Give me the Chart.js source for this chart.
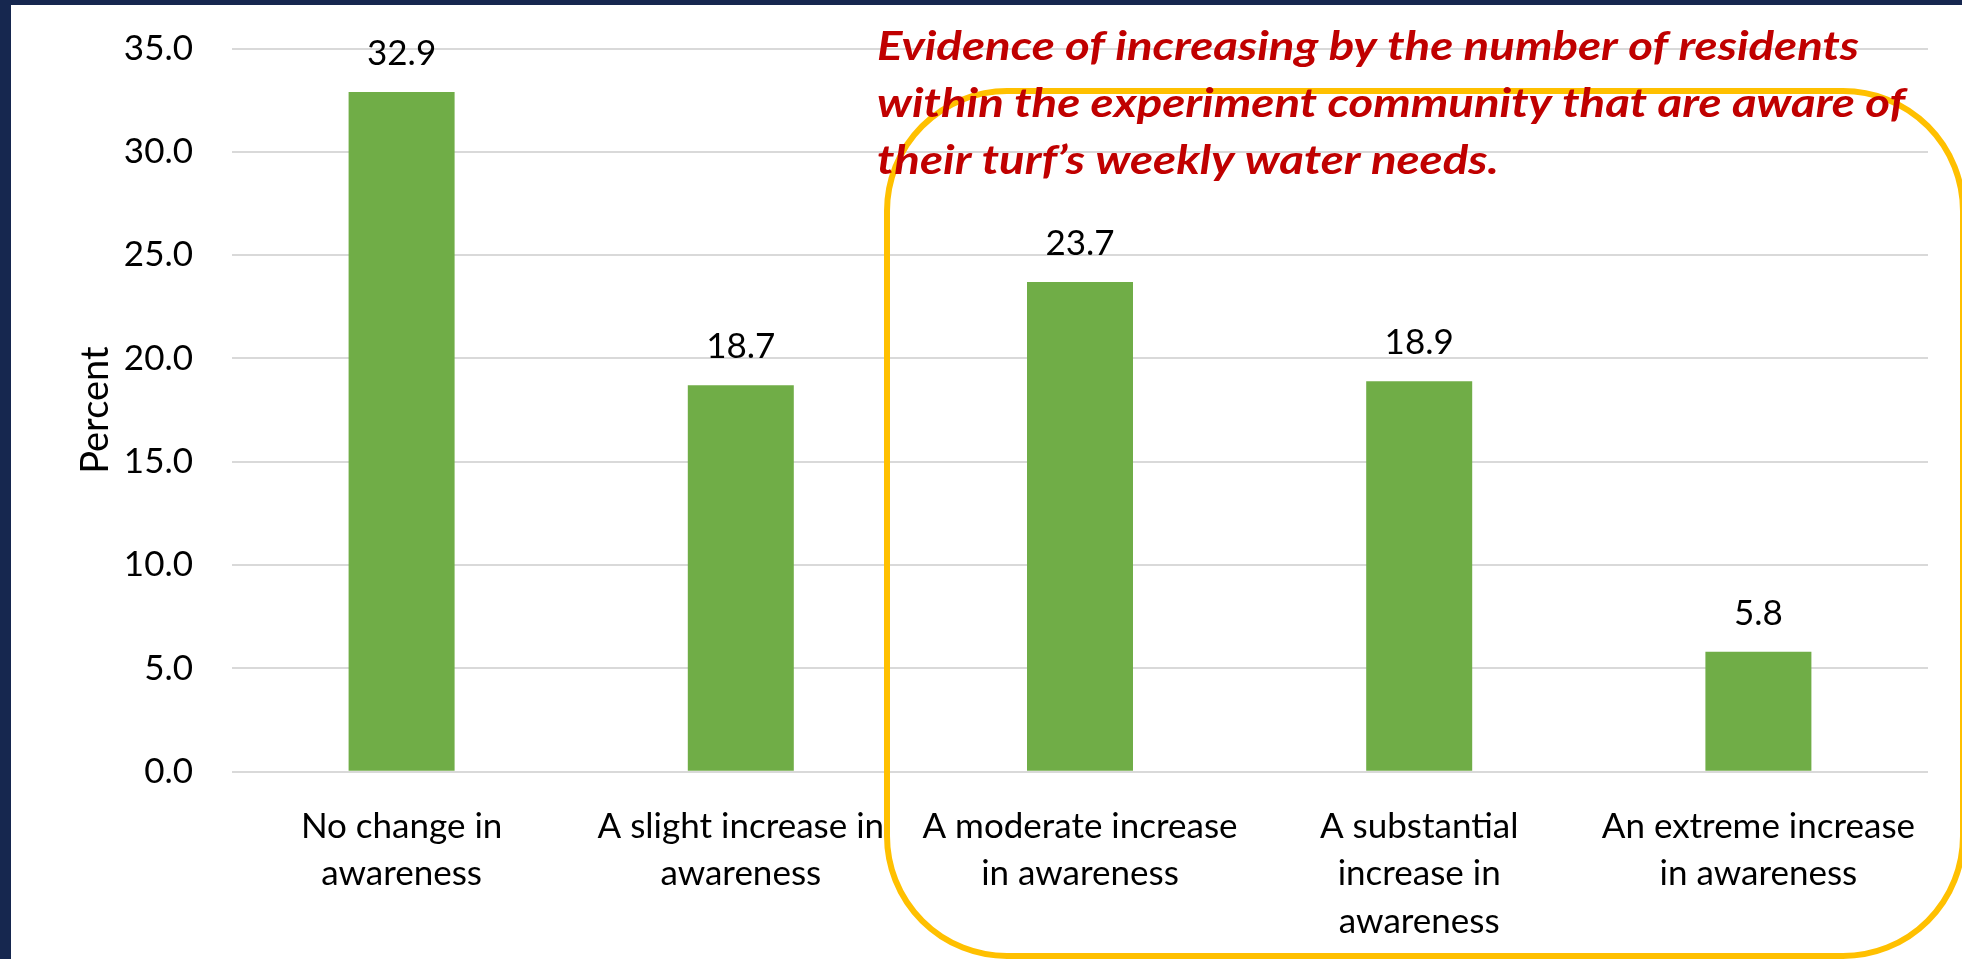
<!DOCTYPE html>
<html>
<head>
<meta charset="utf-8">
<script src="https://cdn.jsdelivr.net/npm/chart.js@4.4.1/dist/chart.umd.min.js"></script>
<style>
  html, body { margin: 0; padding: 0; background: #16274f; }
  #wrap { width: 1962px; height: 959px; position: relative; }
</style>
</head>
<body>
<div id="wrap"><canvas id="c" width="1962" height="959"></canvas></div>
<script>
// ---- data ----
const categories = [
  ["No change in", "awareness"],
  ["A slight increase in", "awareness"],
  ["A moderate increase", "in awareness"],
  ["A substantial", "increase in", "awareness"],
  ["An extreme increase", "in awareness"]
];
const percentValues = [32.9, 18.7, 23.7, 18.9, 5.8];
const yAxisTitle = "Percent";
const annotationLines = [
  "Evidence of increasing by the number of residents",
  "within the experiment community that are aware of",
  "their turf\u2019s weekly water needs."
];
const yMin = 0, yMax = 35, yStep = 5;

// ---- styling ----
const FONT = "Lato";
const NAVY = "#16274f";
const TEXT_SIZE = 35;

const backgroundPlugin = {
  id: "bg",
  beforeDraw(chart) {
    const ctx = chart.ctx;
    ctx.save();
    ctx.fillStyle = NAVY;
    ctx.fillRect(0, 0, chart.width, chart.height);
    ctx.fillStyle = "#ffffff";
    ctx.fillRect(11, 5, chart.width - 11, chart.height - 5);
    ctx.restore();
  }
};

const valueLabelPlugin = {
  id: "valueLabels",
  afterDatasetsDraw(chart) {
    const ctx = chart.ctx;
    const meta = chart.getDatasetMeta(0);
    const data = chart.data.datasets[0].data;
    ctx.save();
    ctx.font = TEXT_SIZE + "px " + FONT;
    ctx.fillStyle = "#000000";
    ctx.textAlign = "center";
    ctx.textBaseline = "alphabetic";
    meta.data.forEach((bar, i) => {
      ctx.fillText(Number(data[i]).toFixed(1), bar.x, bar.y - 27);
    });
    ctx.restore();
  }
};

const annotationPlugin = {
  id: "annotation",
  afterDraw(chart) {
    const ctx = chart.ctx;
    ctx.save();
    // yellow rounded frame
    const L = 887, T = 91, R = 1963, B = 956, r = 120;
    ctx.strokeStyle = "#ffc000";
    ctx.lineWidth = 6;
    ctx.beginPath();
    ctx.moveTo(L + r, T);
    ctx.lineTo(R - r, T);
    ctx.arcTo(R, T, R, T + r, r);
    ctx.lineTo(R, B - r);
    ctx.arcTo(R, B, R - r, B, r);
    ctx.lineTo(L + r, B);
    ctx.arcTo(L, B, L, B - r, r);
    ctx.lineTo(L, T + r);
    ctx.arcTo(L, T, L + r, T, r);
    ctx.closePath();
    ctx.stroke();
    // red text, slightly condensed to mimic the original face
    const size = 40;
    ctx.font = "italic bold " + size + "px " + FONT;
    const w = ctx.measureText(annotationLines[0]).width;
    const sx = 982 / w;
    ctx.fillStyle = "#c00000";
    ctx.textAlign = "left";
    ctx.textBaseline = "alphabetic";
    const baselines = [60, 117, 174];
    annotationLines.forEach((t, i) => {
      ctx.save();
      ctx.translate(877, baselines[i]);
      ctx.scale(sx, 1);
      ctx.fillText(t, 0, 0);
      ctx.restore();
    });
    ctx.restore();
  }
};

const ctx = document.getElementById("c").getContext("2d");
new Chart(ctx, {
  type: "bar",
  data: {
    labels: categories,
    datasets: [{
      data: percentValues,
      backgroundColor: "#70ad47",
      borderWidth: 0,
      categoryPercentage: 1.0,
      barPercentage: 0.3125
    }]
  },
  options: {
    responsive: false,
    animation: false,
    devicePixelRatio: 1,
    layout: { padding: { top: 48.5, left: 73, right: 34, bottom: 0 } },
    plugins: {
      legend: { display: false },
      tooltip: { enabled: false },
      title: { display: false }
    },
    scales: {
      x: {
        grid: { display: false, drawTicks: false },
        border: { display: false },
        ticks: {
          color: "#000000",
          font: { family: FONT, size: TEXT_SIZE, lineHeight: 1.36 },
          padding: 31,
          maxRotation: 0,
          minRotation: 0,
          autoSkip: false
        },
        afterFit(scale) {
          scale.height = 959 - 771.7;
          scale.paddingLeft = 0; scale.paddingRight = 0;
        }
      },
      y: {
        min: yMin,
        max: yMax,
        grid: { color: "#d9d9d9", lineWidth: 2, drawTicks: false },
        border: { display: false },
        ticks: {
          stepSize: yStep,
          color: "#000000",
          font: { family: FONT, size: TEXT_SIZE },
          padding: 39,
          callback: (v) => Number(v).toFixed(1)
        },
        title: {
          display: true,
          text: yAxisTitle,
          color: "#000000",
          font: { family: FONT, size: 38, lineHeight: 1.2 },
          padding: 0
        },
        afterFit(scale) {
          scale.width = 232 - 73;
          scale.paddingTop = 0; scale.paddingBottom = 0;
        }
      }
    }
  },
  plugins: [backgroundPlugin, valueLabelPlugin, annotationPlugin]
});
</script>
</body>
</html>
